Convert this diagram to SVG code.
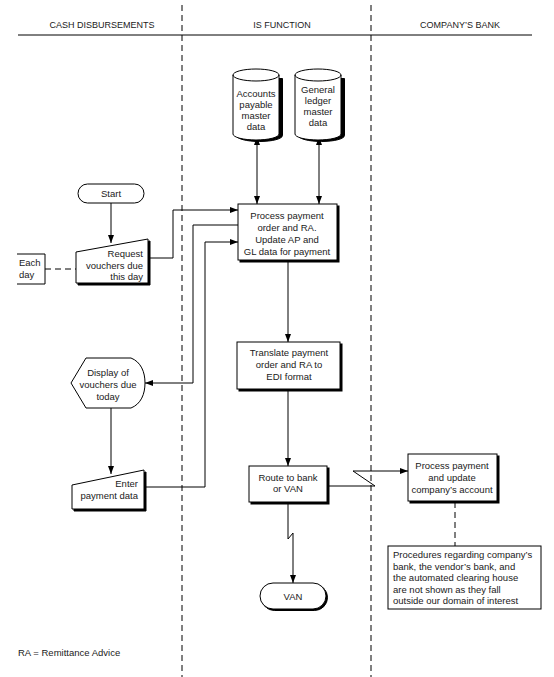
<svg xmlns="http://www.w3.org/2000/svg" width="554" height="677" viewBox="0 0 554 677">
<style>
  text { font-family: "Liberation Sans", Arial, sans-serif; font-size: 9.5px; fill: #1a1a1a; }
  .c { text-anchor: middle; }
  .r { text-anchor: end; }
  .hd { font-size: 9px; }
  .box { fill: #fff; stroke: #000; stroke-width: 1; }
  .sh { fill: #000; stroke: #000; stroke-width: 1; }
  .ln { fill: none; stroke: #000; stroke-width: 1; }
  .dash { fill: none; stroke: #000; stroke-width: 1; stroke-dasharray: 6 4; }
</style>
<defs>
  <marker id="ah" viewBox="0 0 8 6" refX="8" refY="3" markerWidth="8" markerHeight="6" orient="auto" markerUnits="userSpaceOnUse">
    <path d="M0,0 L8,3 L0,6 Z" fill="#000"/>
  </marker>
  <marker id="ahs" viewBox="0 0 8 6" refX="0" refY="3" markerWidth="8" markerHeight="6" orient="auto" markerUnits="userSpaceOnUse">
    <path d="M8,0 L0,3 L8,6 Z" fill="#000"/>
  </marker>
</defs>
<rect width="554" height="677" fill="#fff"/>

<g id="lanes">
  <line x1="18" y1="35" x2="532" y2="35" class="ln"/>
  <line x1="182" y1="5" x2="182" y2="677" class="dash"/>
  <line x1="371" y1="5" x2="371" y2="677" class="dash"/>
  <text x="102" y="28" class="c hd">CASH DISBURSEMENTS</text>
  <text x="282" y="28" class="c hd">IS FUNCTION</text>
  <text x="460" y="28" class="c hd">COMPANY’S BANK</text>
</g>

<g id="connectors">
  <line x1="257" y1="137" x2="257" y2="204" class="ln" marker-start="url(#ahs)" marker-end="url(#ah)"/>
  <line x1="319" y1="137" x2="319" y2="204" class="ln" marker-start="url(#ahs)" marker-end="url(#ah)"/>
  <line x1="111" y1="203" x2="111" y2="243" class="ln" marker-end="url(#ah)"/>
  <path d="M148,258 H173 V210 H238" class="ln" marker-end="url(#ah)"/>
  <path d="M238,225 H193 V383 H145" class="ln" marker-end="url(#ah)"/>
  <path d="M144,487 H205 V242 H238" class="ln" marker-end="url(#ah)"/>
  <line x1="111" y1="408" x2="111" y2="474" class="ln" marker-end="url(#ah)"/>
  <line x1="45" y1="269" x2="76" y2="269" class="dash"/>
  <line x1="288" y1="260" x2="288" y2="342" class="ln" marker-end="url(#ah)"/>
  <line x1="288" y1="389" x2="288" y2="466" class="ln" marker-end="url(#ah)"/>
  <path d="M288,502 V539 L293,533 V583" class="ln" marker-end="url(#ah)"/>
  <path d="M327,486 H375 L353,471 H408" class="ln" marker-end="url(#ah)"/>
  <line x1="455" y1="502" x2="455" y2="546" class="dash"/>
</g>

<g id="ap-master">
  <path d="M235,77 V134 A23,6 0 0 0 281,134 V77 Z" class="sh" transform="translate(1.5,1.5)"/>
  <path d="M233,75 V134 A23,6 0 0 0 279,134 V75 A23,6 0 0 0 233,75 Z" class="box"/>
  <path d="M233,75 A23,6 0 0 0 279,75" class="ln"/>
  <text x="256" y="97" class="c">Accounts</text>
  <text x="256" y="108" class="c">payable</text>
  <text x="256" y="119" class="c">master</text>
  <text x="256" y="130" class="c">data</text>
</g>

<g id="gl-master">
  <path d="M297,77 V134 A23,6 0 0 0 343,134 V77 Z" class="sh" transform="translate(1.5,1.5)"/>
  <path d="M295,75 V134 A23,6 0 0 0 341,134 V75 A23,6 0 0 0 295,75 Z" class="box"/>
  <path d="M295,75 A23,6 0 0 0 341,75" class="ln"/>
  <text x="318" y="93" class="c">General</text>
  <text x="318" y="104" class="c">ledger</text>
  <text x="318" y="115" class="c">master</text>
  <text x="318" y="126" class="c">data</text>
</g>

<g id="start">
  <rect x="78" y="184" width="66" height="19" rx="9.5" class="box"/>
  <text x="111" y="197" class="c">Start</text>
</g>

<g id="each-day">
  <path d="M17,254 H45 V284 H17" class="ln"/>
  <text x="19" y="266">Each</text>
  <text x="19" y="278">day</text>
</g>

<g id="request">
  <path d="M78,254 L150,241 V285 H78 Z" class="sh"/>
  <path d="M76,252 L148,239 V283 H76 Z" class="box"/>
  <text x="143" y="257" class="r">Request</text>
  <text x="143" y="268.5" class="r">vouchers due</text>
  <text x="143" y="280" class="r">this day</text>
</g>

<g id="process">
  <rect x="240" y="206" width="99" height="56" class="sh"/>
  <rect x="238" y="204" width="99" height="56" class="box"/>
  <text x="287" y="219" class="c">Process payment</text>
  <text x="287" y="231" class="c">order and RA.</text>
  <text x="287" y="243" class="c">Update AP and</text>
  <text x="287" y="255" class="c">GL data for payment</text>
</g>

<g id="display">
  <path d="M71,383 L86,358 H131 C141,362 145,372 145,383 C145,394 141,404 131,408 H86 Z" class="box"/>
  <text x="108" y="376" class="c">Display of</text>
  <text x="108" y="388" class="c">vouchers due</text>
  <text x="108" y="400" class="c">today</text>
</g>

<g id="enter">
  <path d="M74,487 L146,472 V511 H74 Z" class="sh"/>
  <path d="M72,485 L144,470 V509 H72 Z" class="box"/>
  <text x="138" y="487" class="r">Enter</text>
  <text x="138" y="499" class="r">payment data</text>
</g>

<g id="translate">
  <rect x="239" y="344" width="103" height="47" class="sh"/>
  <rect x="237" y="342" width="103" height="47" class="box"/>
  <text x="289" y="356" class="c">Translate payment</text>
  <text x="289" y="368" class="c">order and RA to</text>
  <text x="289" y="380" class="c">EDI format</text>
</g>

<g id="route">
  <rect x="251" y="468" width="78" height="36" class="sh"/>
  <rect x="249" y="466" width="78" height="36" class="box"/>
  <text x="288" y="481" class="c">Route to bank</text>
  <text x="288" y="492" class="c">or VAN</text>
</g>

<g id="van">
  <rect x="261.5" y="584.5" width="66" height="26" rx="13" class="sh"/>
  <rect x="260" y="583" width="66" height="26" rx="13" class="box"/>
  <text x="293" y="600" class="c">VAN</text>
</g>

<g id="bank-process">
  <rect x="410" y="456" width="89" height="47" class="sh"/>
  <rect x="408" y="454" width="89" height="47" class="box"/>
  <text x="452" y="469" class="c">Process payment</text>
  <text x="452" y="481" class="c">and update</text>
  <text x="452" y="493" class="c">company’s account</text>
</g>

<g id="note">
  <rect x="388" y="546" width="153" height="63" class="box"/>
  <text x="393" y="558">Procedures regarding company’s</text>
  <text x="393" y="569.5">bank, the vendor’s bank, and</text>
  <text x="393" y="581">the automated clearing house</text>
  <text x="393" y="592.5">are not shown as they fall</text>
  <text x="393" y="604">outside our domain of interest</text>
</g>

<g id="legend">
  <text x="18" y="656">RA = Remittance Advice</text>
</g>
</svg>
